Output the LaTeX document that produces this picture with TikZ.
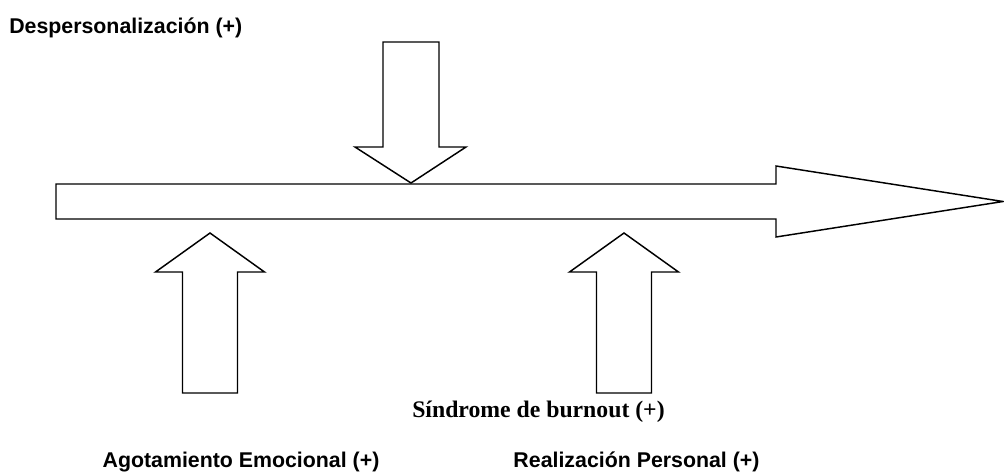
\documentclass[tikz,border=0pt]{standalone}
\usepackage{fontspec}
\setmainfont{Liberation Serif}
\setsansfont{Liberation Sans}
\usepackage{tikz}
\usetikzlibrary{positioning}

\begin{document}
\begin{tikzpicture}[x=0.75pt, y=-0.75pt, line join=miter]

	\tikzstyle{blockarrow}=[draw=black, line width=1.1pt, fill=white]
	\tikzstyle{factor}=[inner sep=0pt, font=\sffamily\bfseries\fontsize{16}{19}\selectfont]
	\tikzstyle{result}=[inner sep=0pt, font=\rmfamily\bfseries\fontsize{17.8}{21}\selectfont]

	\useasboundingbox (0,0) rectangle (1004,472);

	% main arrow
	\draw[blockarrow] (56,184) -- (776,184) -- (776,166) -- (1003,201.5)
		-- (776,237) -- (776,219) -- (56,219) -- cycle;

	% down arrow
	\draw[blockarrow] (383,42) -- (439,42) -- (439,147) -- (466,147)
		-- (411,183) -- (355,147) -- (383,147) -- cycle;

	% up arrows
	\foreach \cx in {210,624}
		\draw[blockarrow] (\cx-27.5,393) -- (\cx-27.5,272) -- (\cx-54.5,272)
			-- (\cx,233) -- (\cx+54.5,272) -- (\cx+27.5,272) -- (\cx+27.5,393) -- cycle;

	% labels
	\node[factor, anchor=base west] (desp) at (9,33) {Despersonalización (+)};
	\node[result, anchor=base west] (sind) at (412,417) {Síndrome de burnout (+)};
	\node[factor, anchor=base] (agot) at (241,467) {Agotamiento Emocional (+)};
	\node[factor, anchor=base] (real) at (636.5,467.5) {Realización Personal (+)};

\end{tikzpicture}
\end{document}
